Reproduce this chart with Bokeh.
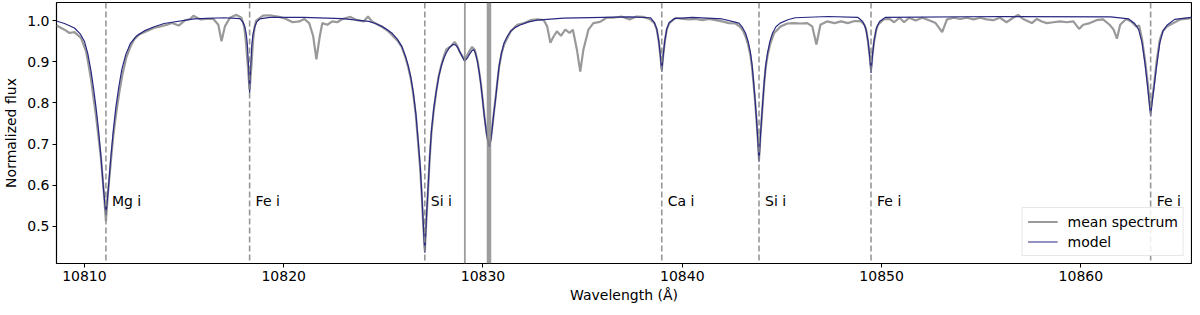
from bokeh.plotting import figure
from bokeh.models import Span, FixedTicker, PrintfTickFormatter, Range1d, ColumnDataSource, Legend
from bokeh.core.properties import value
from bokeh.embed import file_html
from bokeh.resources import INLINE

# ---- data (wavelength in Å, normalized flux) ----
model_pts = [
    (10808.60, 0.999), (10809.00, 0.993), (10809.50, 0.982), (10809.80, 0.967), (10810.00, 0.950),
    (10810.17, 0.920), (10810.33, 0.878), (10810.46, 0.835), (10810.58, 0.790), (10810.70, 0.738),
    (10810.83, 0.670), (10810.96, 0.590), (10811.08, 0.528), (10811.20, 0.590), (10811.33, 0.670),
    (10811.46, 0.738), (10811.58, 0.790), (10811.73, 0.840), (10811.88, 0.882), (10812.08, 0.918),
    (10812.30, 0.944), (10812.60, 0.962), (10813.00, 0.975), (10813.50, 0.985), (10814.00, 0.993),
    (10815.50, 1.004), (10817.00, 1.007), (10817.80, 1.005), (10817.95, 0.997), (10818.05, 0.985),
    (10818.12, 0.968), (10818.18, 0.940), (10818.24, 0.885), (10818.29, 0.824), (10818.34, 0.885),
    (10818.40, 0.940), (10818.46, 0.968), (10818.55, 0.985), (10818.65, 0.997), (10818.80, 1.004),
    (10819.30, 1.008), (10821.00, 1.008), (10822.94, 1.005), (10824.27, 0.998), (10824.60, 0.993),
    (10824.93, 0.986), (10825.20, 0.978), (10825.42, 0.970), (10825.70, 0.955), (10825.92, 0.938),
    (10826.10, 0.915), (10826.25, 0.890), (10826.38, 0.862), (10826.50, 0.826), (10826.63, 0.775),
    (10826.75, 0.707), (10826.85, 0.645), (10826.92, 0.587), (10827.00, 0.510), (10827.08, 0.436),
    (10827.16, 0.520), (10827.25, 0.600), (10827.33, 0.672), (10827.41, 0.731), (10827.53, 0.787),
    (10827.66, 0.830), (10827.78, 0.864), (10827.91, 0.890), (10828.03, 0.908), (10828.16, 0.922),
    (10828.32, 0.935), (10828.49, 0.942), (10828.62, 0.941), (10828.74, 0.934), (10828.90, 0.918),
    (10829.07, 0.902), (10829.20, 0.908), (10829.32, 0.918), (10829.43, 0.926), (10829.53, 0.930),
    (10829.63, 0.920), (10829.73, 0.898), (10829.82, 0.872), (10829.90, 0.842), (10829.98, 0.808),
    (10830.06, 0.770), (10830.18, 0.725), (10830.31, 0.693), (10830.40, 0.712), (10830.48, 0.746),
    (10830.56, 0.782), (10830.65, 0.818), (10830.73, 0.856), (10830.81, 0.890), (10830.93, 0.922),
    (10831.06, 0.946), (10831.22, 0.962), (10831.39, 0.974), (10831.60, 0.983), (10831.89, 0.990),
    (10832.30, 0.997), (10832.72, 1.001), (10834.04, 1.006), (10837.36, 1.009), (10838.40, 1.007),
    (10838.60, 0.995), (10838.72, 0.980), (10838.82, 0.950), (10838.90, 0.915), (10838.97, 0.876),
    (10839.04, 0.915), (10839.12, 0.950), (10839.22, 0.980), (10839.34, 0.995), (10839.60, 1.005),
    (10840.50, 1.008), (10842.00, 1.004), (10842.50, 0.998), (10842.84, 0.994), (10843.00, 0.985),
    (10843.17, 0.970), (10843.30, 0.950), (10843.42, 0.922), (10843.50, 0.893), (10843.58, 0.850),
    (10843.65, 0.810), (10843.72, 0.762), (10843.79, 0.710), (10843.85, 0.657), (10843.91, 0.710),
    (10843.98, 0.762), (10844.05, 0.810), (10844.11, 0.850), (10844.19, 0.893), (10844.28, 0.922),
    (10844.40, 0.950), (10844.53, 0.970), (10844.70, 0.985), (10844.91, 0.994), (10845.30, 1.002),
    (10845.66, 1.007), (10847.31, 1.010), (10848.80, 1.008), (10849.05, 0.998), (10849.20, 0.982),
    (10849.32, 0.950), (10849.40, 0.915), (10849.47, 0.873), (10849.54, 0.915), (10849.62, 0.950),
    (10849.74, 0.982), (10849.90, 0.998), (10850.20, 1.008), (10856.00, 1.010), (10861.50, 1.009),
    (10862.40, 1.004), (10862.70, 0.993), (10862.90, 0.978), (10863.07, 0.946), (10863.23, 0.890),
    (10863.36, 0.834), (10863.43, 0.800), (10863.50, 0.768), (10863.57, 0.800), (10863.66, 0.834),
    (10863.80, 0.890), (10863.96, 0.946), (10864.12, 0.975), (10864.35, 0.990), (10864.70, 1.003),
    (10865.55, 1.008),
]

spectrum_pts = [
    (10808.60, 0.988), (10809.00, 0.978), (10809.25, 0.970), (10809.50, 0.972), (10809.83, 0.958),
    (10810.08, 0.926), (10810.20, 0.895), (10810.33, 0.858), (10810.45, 0.815), (10810.58, 0.770),
    (10810.70, 0.720), (10810.83, 0.666), (10810.98, 0.580), (10811.08, 0.513), (10811.18, 0.580),
    (10811.33, 0.659), (10811.45, 0.720), (10811.58, 0.770), (10811.75, 0.825), (10811.91, 0.870),
    (10812.10, 0.910), (10812.32, 0.938), (10812.50, 0.955), (10812.74, 0.966), (10813.15, 0.975),
    (10813.48, 0.982), (10813.82, 0.986), (10814.15, 0.990), (10814.39, 0.994), (10814.73, 0.988),
    (10815.06, 1.001), (10815.31, 1.004), (10815.47, 1.012), (10815.81, 1.003), (10816.13, 1.004),
    (10816.47, 1.004), (10816.72, 0.990), (10816.88, 0.950), (10817.05, 0.986), (10817.30, 1.007),
    (10817.63, 1.014), (10817.88, 1.007), (10818.02, 0.985), (10818.10, 0.950), (10818.20, 0.890),
    (10818.29, 0.832), (10818.38, 0.890), (10818.46, 0.950), (10818.54, 0.985), (10818.62, 1.000),
    (10818.96, 1.012), (10819.29, 1.013), (10819.78, 1.009), (10820.12, 1.004), (10820.45, 0.996),
    (10820.78, 0.998), (10821.03, 1.004), (10821.28, 0.994), (10821.48, 0.962), (10821.64, 0.906),
    (10821.81, 0.962), (10821.94, 0.994), (10822.19, 0.990), (10822.44, 0.998), (10822.69, 0.996),
    (10822.94, 1.004), (10823.35, 1.009), (10823.68, 1.001), (10824.01, 0.998), (10824.23, 1.010),
    (10824.43, 0.998), (10824.93, 0.985), (10825.20, 0.976), (10825.42, 0.966), (10825.70, 0.952),
    (10825.92, 0.936), (10826.10, 0.912), (10826.25, 0.886), (10826.38, 0.858), (10826.50, 0.822),
    (10826.63, 0.770), (10826.75, 0.700), (10826.85, 0.640), (10826.92, 0.580), (10827.00, 0.505),
    (10827.08, 0.440), (10827.16, 0.515), (10827.25, 0.595), (10827.33, 0.668), (10827.41, 0.726),
    (10827.53, 0.782), (10827.66, 0.830), (10827.78, 0.866), (10827.91, 0.892), (10828.05, 0.915),
    (10828.16, 0.930), (10828.40, 0.938), (10828.57, 0.948), (10828.70, 0.940), (10828.82, 0.925),
    (10829.07, 0.906), (10829.20, 0.915), (10829.32, 0.926), (10829.45, 0.936), (10829.58, 0.930),
    (10829.73, 0.902), (10829.90, 0.845), (10830.06, 0.772), (10830.18, 0.726), (10830.31, 0.695),
    (10830.40, 0.714), (10830.48, 0.748), (10830.65, 0.820), (10830.81, 0.888), (10830.93, 0.920),
    (10831.06, 0.942), (10831.39, 0.974), (10831.72, 0.990), (10832.06, 0.994), (10832.39, 1.001),
    (10832.72, 1.003), (10833.05, 1.001), (10833.22, 0.986), (10833.38, 0.946), (10833.55, 0.962),
    (10833.71, 0.974), (10833.91, 0.963), (10834.13, 0.978), (10834.34, 0.970), (10834.51, 0.978),
    (10834.71, 0.930), (10834.88, 0.876), (10835.04, 0.930), (10835.29, 0.978), (10835.54, 0.994),
    (10835.87, 0.997), (10836.20, 1.007), (10836.53, 1.007), (10836.95, 1.010), (10837.36, 1.003),
    (10837.69, 1.010), (10838.03, 1.009), (10838.36, 1.004), (10838.60, 0.994), (10838.72, 0.978),
    (10838.82, 0.950), (10838.90, 0.915), (10838.97, 0.880), (10839.04, 0.915), (10839.12, 0.948),
    (10839.22, 0.978), (10839.35, 0.994), (10839.68, 1.007), (10840.01, 1.004), (10840.35, 1.003),
    (10840.68, 1.004), (10841.01, 1.001), (10841.34, 1.004), (10841.67, 1.001), (10842.00, 0.998),
    (10842.34, 0.994), (10842.67, 0.993), (10842.90, 0.985), (10843.05, 0.975), (10843.17, 0.962),
    (10843.30, 0.942), (10843.42, 0.915), (10843.50, 0.885), (10843.58, 0.845), (10843.65, 0.805),
    (10843.72, 0.762), (10843.79, 0.712), (10843.85, 0.662), (10843.91, 0.712), (10843.98, 0.760),
    (10844.05, 0.808), (10844.11, 0.848), (10844.19, 0.888), (10844.28, 0.915), (10844.42, 0.945),
    (10844.61, 0.970), (10844.94, 0.986), (10845.27, 0.993), (10845.60, 0.994), (10845.94, 0.993),
    (10846.27, 0.994), (10846.52, 0.986), (10846.73, 0.942), (10846.93, 0.990), (10847.26, 0.998),
    (10847.64, 0.994), (10847.97, 0.998), (10848.31, 0.994), (10848.64, 0.999), (10848.97, 0.998),
    (10849.14, 0.990), (10849.24, 0.975), (10849.32, 0.948), (10849.40, 0.915), (10849.47, 0.880),
    (10849.54, 0.915), (10849.62, 0.948), (10849.72, 0.975), (10849.82, 0.990), (10850.10, 1.003),
    (10850.40, 1.004), (10850.63, 0.996), (10850.90, 1.007), (10851.13, 0.996), (10851.38, 1.007),
    (10851.71, 1.000), (10852.04, 1.007), (10852.38, 1.001), (10852.71, 0.994), (10853.04, 0.972),
    (10853.28, 1.003), (10853.62, 1.007), (10853.95, 1.004), (10854.28, 1.007), (10854.62, 1.003),
    (10854.95, 1.007), (10855.27, 1.003), (10855.60, 1.001), (10855.94, 1.007), (10856.27, 0.996),
    (10856.60, 1.007), (10856.85, 1.014), (10857.10, 1.004), (10857.54, 0.994), (10857.79, 1.004),
    (10858.04, 0.998), (10858.29, 0.994), (10858.62, 0.996), (10858.96, 0.998), (10859.29, 0.996),
    (10859.62, 0.998), (10859.91, 0.980), (10860.12, 0.990), (10860.45, 0.994), (10860.78, 1.001),
    (10861.11, 1.003), (10861.44, 0.990), (10861.64, 0.978), (10861.81, 0.956), (10861.97, 0.990),
    (10862.27, 1.004), (10862.52, 0.998), (10862.77, 0.986), (10862.92, 0.988), (10863.07, 0.954),
    (10863.23, 0.900), (10863.36, 0.845), (10863.43, 0.810), (10863.50, 0.780), (10863.57, 0.808),
    (10863.66, 0.840), (10863.80, 0.900), (10863.96, 0.954), (10864.12, 0.975), (10864.30, 0.985),
    (10864.64, 0.994), (10865.00, 1.003), (10865.55, 1.006),
]

line_wl = [10811.08, 10818.29, 10827.08, 10838.97, 10843.85, 10849.47, 10863.50]
line_names = ["Mg i", "Fe i", "Si i", "Ca i", "Si i", "Fe i", "Fe i"]
he_wl = [10829.09, 10830.30]
he_width = [1.8, 4.5]
label_y = 0.561

x_ticks = [10810, 10820, 10830, 10840, 10850, 10860]
y_ticks = [0.5, 0.6, 0.7, 0.8, 0.9, 1.0]

model_wl = [w for w, f in model_pts]
model_flux = [f for w, f in model_pts]
spec_wl = [w for w, f in spectrum_pts]
spec_flux = [f for w, f in spectrum_pts]

FONT = "DejaVu Sans"
FS = "14px"

p = figure(width=1192, height=305, output_backend="svg", toolbar_location=None,
           x_range=Range1d(10808.6, 10865.55), y_range=Range1d(0.410, 1.044),
           min_border_left=44, min_border_right=1, min_border_top=2, min_border_bottom=4)
p.xgrid.visible = False
p.ygrid.visible = False
p.outline_line_color = "black"
p.outline_line_width = 1.2
p.background_fill_color = "white"
p.border_fill_color = "white"

for ax in (p.xaxis[0], p.yaxis[0]):
    ax.axis_line_color = None
    ax.major_tick_in = 0
    ax.major_tick_out = 4
    ax.minor_tick_line_color = None
    ax.major_tick_line_color = "black"
    ax.major_label_text_font = FONT
    ax.major_label_text_font_size = FS
    ax.major_label_text_color = "black"
    ax.axis_label_text_font = FONT
    ax.axis_label_text_font_size = FS
    ax.axis_label_text_font_style = "normal"
    ax.axis_label_text_color = "black"
    ax.major_label_standoff = 3

p.xaxis[0].ticker = FixedTicker(ticks=x_ticks)
p.xaxis[0].formatter = PrintfTickFormatter(format="%d")
p.yaxis[0].ticker = FixedTicker(ticks=y_ticks)
p.yaxis[0].formatter = PrintfTickFormatter(format="%.1f")
p.xaxis[0].axis_label = "Wavelength (Å)"
p.yaxis[0].axis_label = "Normalized flux"
p.xaxis[0].axis_label_standoff = 3
p.yaxis[0].axis_label_standoff = 5

# vertical marker lines
for wl in line_wl:
    p.add_layout(Span(location=wl, dimension="height", line_color="#8c8c8c",
                      line_width=1.6, line_dash="6 3", line_alpha=0.9))
for wl, w in zip(he_wl, he_width):
    p.add_layout(Span(location=wl, dimension="height", line_color="#8c8c8c",
                      line_width=w, line_alpha=0.85))

# spectra
r1 = p.line(spec_wl, spec_flux, line_color="#999999", line_width=2.2)
r2 = p.line(model_wl, model_flux, line_color="#282882", line_width=1.2)

# line labels
src = ColumnDataSource(dict(x=line_wl, y=[label_y] * len(line_wl), t=line_names))
p.text(x="x", y="y", text="t", source=src, x_offset=6, text_baseline="middle",
       text_align="left", text_font=value(FONT), text_font_size=FS, text_color="black")

legend = Legend(items=[("mean spectrum", [r1]), ("model", [r2])], location="bottom_right")
legend.label_text_font = FONT
legend.label_text_font_size = FS
legend.label_text_color = "black"
legend.label_height = 17
legend.glyph_width = 30
legend.glyph_height = 17
legend.spacing = 3
legend.padding = 5
legend.margin = 7
legend.border_line_color = "#d0d0d0"
legend.border_line_width = 1
legend.background_fill_alpha = 0.85
legend.label_standoff = 10
p.add_layout(legend)

open("out.html", "w").write(file_html(p, INLINE))
